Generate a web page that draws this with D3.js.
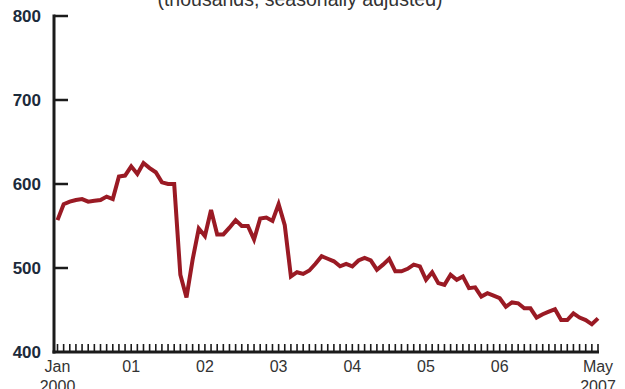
<!DOCTYPE html>
<html>
<head>
<meta charset="utf-8">
<script src="https://cdn.jsdelivr.net/npm/d3@7"></script>
<style>
  html, body { margin: 0; padding: 0; background: #ffffff; }
  svg { display: block; }
</style>
</head>
<body>
<svg id="chart" width="625" height="389"></svg>
<script>
// Monthly employment, Jan 2000 – May 2007 (thousands, seasonally adjusted)
const values = [
  557, 576, 579, 581, 582, 579, 580, 581, 585, 582, 609, 610,
  621, 612, 625, 619, 614, 602, 600, 600, 492, 465, 510, 547,
  538, 569, 540, 540, 548, 557, 550, 550, 534, 559, 560, 556,
  576, 551, 490, 495, 493, 497, 505, 514, 511, 508, 502, 505,
  502, 509, 512, 509, 498, 504, 511, 496, 496, 499, 504, 502,
  486, 495, 482, 480, 492, 486, 490, 476, 477, 466, 470, 467,
  464, 454, 459, 458, 452, 452, 441, 445, 448, 451, 438, 438,
  446, 441, 438, 433, 440
];

const yTicks = [400, 500, 600, 700, 800];
const xLabelMonths = [0, 12, 24, 36, 48, 60, 72, 88];
const xLabels = ["Jan", "01", "02", "03", "04", "05", "06", "May"];
const xSubLabels = ["2000", "", "", "", "", "", "", "2007"];
const title = "(thousands, seasonally adjusted)";

const svg = d3.select("#chart");

const axisX = 54, axisBottom = 352;
const x = d3.scaleLinear().domain([0, values.length - 1]).range([57.5, 598]);
const y = d3.scaleLinear().domain([400, 800]).range([axisBottom, 16]);

const axisColor = "#1b1b1b";
const lineColor = "#9a1a24";

// Title (partly above the top edge)
svg.append("text")
  .attr("x", 300).attr("y", 6)
  .attr("text-anchor", "middle")
  .attr("font-family", "Liberation Sans, Arial, sans-serif")
  .attr("font-size", 19.5)
  .attr("fill", "#333")
  .text(title);

// Vertical axis with inward ticks
svg.append("line")
  .attr("x1", axisX).attr("x2", axisX)
  .attr("y1", y(800) - 1.5).attr("y2", axisBottom + 1.5)
  .attr("stroke", axisColor).attr("stroke-width", 3);

svg.selectAll(".ytick").data(yTicks.filter(d => d > 400)).enter()
  .append("line")
  .attr("x1", axisX).attr("x2", axisX + 14)
  .attr("y1", d => y(d)).attr("y2", d => y(d))
  .attr("stroke", axisColor).attr("stroke-width", 2.5);

svg.selectAll(".ylabel").data(yTicks).enter()
  .append("text")
  .attr("x", 41).attr("y", d => y(d) + 6)
  .attr("text-anchor", "end")
  .attr("font-family", "Liberation Sans Narrow, Arial Narrow, Liberation Sans, sans-serif")
  .attr("font-weight", "bold")
  .attr("font-size", 17)
  .attr("fill", "#1c2b3b")
  .text(d => d);

// Horizontal axis with monthly ticks
svg.append("line")
  .attr("x1", axisX - 1.5).attr("x2", x(values.length - 1) + 1)
  .attr("y1", axisBottom).attr("y2", axisBottom)
  .attr("stroke", axisColor).attr("stroke-width", 3);

svg.selectAll(".xtick").data(d3.range(values.length)).enter()
  .append("line")
  .attr("x1", d => x(d)).attr("x2", d => x(d))
  .attr("y1", axisBottom).attr("y2", axisBottom - 8)
  .attr("stroke", axisColor).attr("stroke-width", 1.6);

const xlab = svg.selectAll(".xlabel").data(xLabelMonths).enter()
  .append("text")
  .attr("text-anchor", "middle")
  .attr("font-family", "Liberation Sans Narrow, Arial Narrow, Liberation Sans, sans-serif")
  .attr("font-size", 16)
  .attr("fill", "#333");
xlab.append("tspan")
  .attr("x", d => x(d)).attr("y", 372)
  .text((d, i) => xLabels[i]);
xlab.append("tspan")
  .attr("x", d => x(d)).attr("y", 392)
  .text((d, i) => xSubLabels[i]);

// Data line
const line = d3.line()
  .x((d, i) => x(i))
  .y(d => y(d));

svg.append("path")
  .datum(values)
  .attr("d", line)
  .attr("fill", "none")
  .attr("stroke", lineColor)
  .attr("stroke-width", 4)
  .attr("stroke-linejoin", "miter")
  .attr("stroke-linecap", "butt");
</script>
</body>
</html>
